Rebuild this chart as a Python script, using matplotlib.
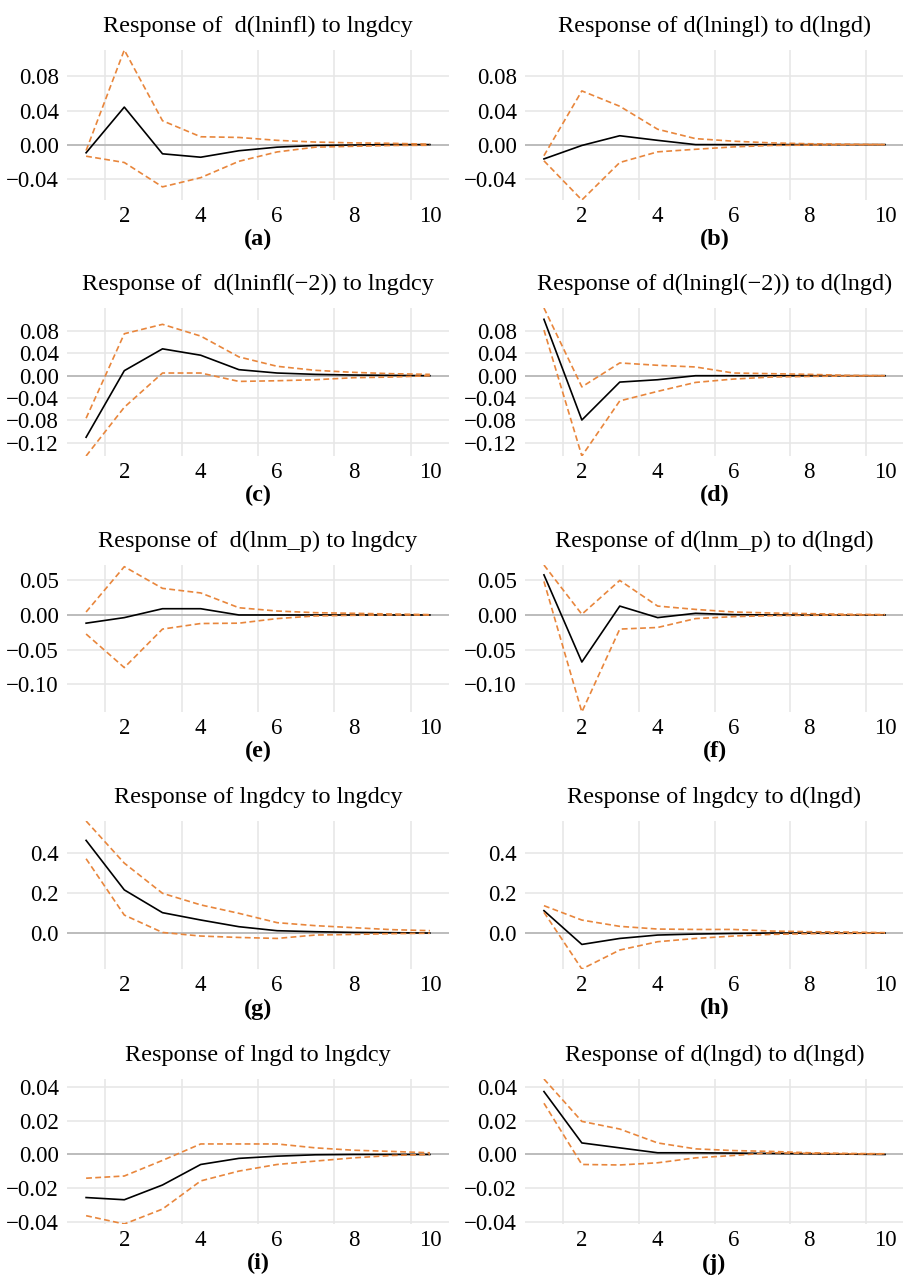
import numpy as np
import matplotlib
matplotlib.use('Agg')
import matplotlib.pyplot as plt
from matplotlib.ticker import FixedLocator, FuncFormatter

plt.rcParams['font.family'] = ['Liberation Serif', 'DejaVu Serif']

# --- impulse responses (horizon 1..10) ---------------------------------
periods = np.arange(1, 11)

resp_a = [-0.0096, 0.044, -0.0108, -0.0148, -0.0072, -0.003, -0.001, -0.0005, 0.0, 0.0]
upper_a = [-0.007, 0.111, 0.028, 0.0092, 0.0084, 0.005, 0.003, 0.002, 0.0015, 0.0005]
lower_a = [-0.0136, -0.021, -0.0496, -0.0388, -0.0196, -0.0086, -0.003, -0.002, -0.001, -0.0008]

resp_b = [-0.0168, -0.001, 0.0104, 0.005, 0.0, 0.0, 0.0, 0.0, 0.0, 0.0]
upper_b = [-0.013, 0.063, 0.045, 0.018, 0.007, 0.004, 0.002, 0.001, 0.0005, 0.0]
lower_b = [-0.019, -0.065, -0.021, -0.0085, -0.0055, -0.0027, -0.001, -0.0006, -0.0003, 0.0]

resp_c = [-0.110, 0.009, 0.048, 0.0366, 0.0108, 0.0048, 0.0024, 0.0012, 0.0006, 0.0]
upper_c = [-0.076, 0.075, 0.0918, 0.0708, 0.0336, 0.0168, 0.0096, 0.006, 0.0036, 0.0024]
lower_c = [-0.1435, -0.0564, 0.0048, 0.0048, -0.0102, -0.009, -0.0072, -0.0036, -0.0024, 0.0]

resp_d = [0.1008, -0.0792, -0.0114, -0.0072, 0.0, 0.0, 0.0, 0.0, 0.0, 0.0]
upper_d = [0.121, -0.020, 0.0228, 0.0186, 0.0156, 0.0048, 0.0036, 0.0024, 0.0006, 0.0]
lower_d = [0.0816, -0.1435, -0.045, -0.028, -0.012, -0.006, -0.0024, -0.0012, -0.0006, 0.0]

resp_e = [-0.0118, -0.0038, 0.009, 0.009, 0.0, 0.0, 0.0, 0.0, 0.0, 0.0]
upper_e = [0.0043, 0.0695, 0.0383, 0.0317, 0.0104, 0.0057, 0.0033, 0.0024, 0.0014, 0.0005]
lower_e = [-0.0274, -0.0757, -0.0203, -0.0123, -0.0118, -0.0052, -0.0014, -0.0005, 0.0, 0.0]

resp_f = [0.0577, -0.0677, 0.0128, -0.0038, 0.0024, 0.0005, 0.0, 0.0, 0.0, 0.0]
upper_f = [0.0719, 0.001, 0.0497, 0.0128, 0.008, 0.0043, 0.0028, 0.0019, 0.001, 0.0005]
lower_f = [0.0483, -0.1396, -0.0203, -0.018, -0.0052, -0.0024, -0.001, -0.0005, 0.0, 0.0]

resp_g = [0.464, 0.216, 0.102, 0.0653, 0.0318, 0.0117, 0.0067, 0.0033, 0.0017, 0.0]
upper_g = [0.561, 0.350, 0.199, 0.141, 0.0988, 0.052, 0.037, 0.027, 0.017, 0.012]
lower_g = [0.372, 0.090, 0.003, -0.015, -0.022, -0.027, -0.010, -0.007, -0.003, -0.001]

resp_h = [0.112, -0.057, -0.027, -0.010, -0.005, -0.002, 0.0, 0.0, 0.0, 0.0]
upper_h = [0.137, 0.065, 0.0335, 0.020, 0.018, 0.018, 0.010, 0.0067, 0.005, 0.002]
lower_h = [0.104, -0.180, -0.085, -0.0435, -0.027, -0.015, -0.0067, -0.0033, -0.0017, 0.0]

resp_i = [-0.0254, -0.0267, -0.018, -0.0059, -0.0023, -0.001, -0.0002, 0.0, 0.0, 0.0]
upper_i = [-0.014, -0.0127, -0.0035, 0.0062, 0.0062, 0.0062, 0.0039, 0.0025, 0.0018, 0.001]
lower_i = [-0.0361, -0.041, -0.0322, -0.0156, -0.0098, -0.0059, -0.0039, -0.002, -0.0006, 0.0]

resp_j = [0.0371, 0.0068, 0.0039, 0.001, 0.001, 0.0008, 0.0006, 0.0004, 0.0002, 0.0]
upper_j = [0.0445, 0.0195, 0.015, 0.0068, 0.0033, 0.0023, 0.0018, 0.001, 0.0006, 0.0004]
lower_j = [0.0302, -0.0059, -0.0062, -0.0049, -0.002, -0.0006, 0.001, 0.0006, 0.0004, 0.0002]

titles = [
    'Response of  d(lninfl) to lngdcy', 'Response of d(lningl) to d(lngd)',
    'Response of  d(lninfl(\u22122)) to lngdcy', 'Response of d(lningl(\u22122)) to d(lngd)',
    'Response of  d(lnm_p) to lngdcy', 'Response of d(lnm_p) to d(lngd)',
    'Response of lngdcy to lngdcy', 'Response of lngdcy to d(lngd)',
    'Response of lngd to lngdcy', 'Response of d(lngd) to d(lngd)',
]
letters = ['(a)', '(b)', '(c)', '(d)', '(e)', '(f)', '(g)', '(h)', '(i)', '(j)']

panels = [
    (resp_a, upper_a, lower_a), (resp_b, upper_b, lower_b),
    (resp_c, upper_c, lower_c), (resp_d, upper_d, lower_d),
    (resp_e, upper_e, lower_e), (resp_f, upper_f, lower_f),
    (resp_g, upper_g, lower_g), (resp_h, upper_h, lower_h),
    (resp_i, upper_i, lower_i), (resp_j, upper_j, lower_j),
]

# y ticks shared by each row of panels
row_yticks = [
    [-0.04, 0.0, 0.04, 0.08],
    [-0.12, -0.08, -0.04, 0.0, 0.04, 0.08],
    [-0.10, -0.05, 0.0, 0.05],
    [0.0, 0.2, 0.4],
    [-0.04, -0.02, 0.0, 0.02, 0.04],
]
row_digits = [2, 2, 2, 1, 2]
xticks = [2, 4, 6, 8, 10]


def tick_fmt(digits):
    def f(v, pos):
        s = f'{v:.{digits}f}'
        if s.startswith('-'):
            s = '\u2212' + s[1:]
        return s.replace('\u22120.' + '0' * digits, '0.' + '0' * digits)
    return FuncFormatter(f)


# --- layout (pixel boxes on a 904x1280 canvas) --------------------------
W, H = 904, 1280
col_x = [(67, 449), (525, 904)]
row_y = [(50, 200), (308, 456), (565, 712), (821, 969), (1079, 1224)]

ORANGE = '#e8863c'
GRID = '#e6e6e6'

fig = plt.figure(figsize=(W / 100, H / 100), dpi=100)

for k, (resp, upper, lower) in enumerate(panels):
    r, c = divmod(k, 2)
    x0, x1 = col_x[c]
    y0, y1 = row_y[r]
    ax = fig.add_axes([x0 / W, 1 - y1 / H, (x1 - x0) / W, (y1 - y0) / H])

    # rows share their vertical range
    pair = panels[2 * r] + panels[2 * r + 1]
    lo = min(min(s) for s in pair)
    hi = max(max(s) for s in pair)

    ax.axhline(0, color='#b0b0b0', lw=1.1, zorder=1)
    ax.plot(periods, resp, color='black', lw=1.2, zorder=3)
    ax.plot(periods, upper, color=ORANGE, lw=1.2, ls=(0, (3.5, 2)), zorder=4)
    ax.plot(periods, lower, color=ORANGE, lw=1.2, ls=(0, (3.5, 2)), zorder=4)

    ax.set_xlim(0.5, 10.5)
    ax.set_xticks(xticks)
    ax.xaxis.set_minor_locator(FixedLocator([1.5, 3.5, 5.5, 7.5, 9.5]))
    ax.set_yticks(row_yticks[r])
    ax.yaxis.set_major_formatter(tick_fmt(row_digits[r]))
    ax.set_ylim(lo, hi)

    ax.grid(False)
    ax.grid(True, which='minor', axis='x', color=GRID, lw=1.1)
    ax.grid(True, which='major', axis='y', color=GRID, lw=1.1)
    ax.set_axisbelow(True)
    for sp in ax.spines.values():
        sp.set_visible(False)
    ax.tick_params(which='both', length=0, labelsize=16.5)
    ax.tick_params(axis='y', pad=6)
    ax.tick_params(axis='x', pad=4)

    ax.set_title(titles[k], fontsize=17.5, pad=13)
    ax.set_xlabel(letters[k], fontsize=17.5, fontweight='bold', labelpad=2)

fig.savefig('out.png', dpi=100)
